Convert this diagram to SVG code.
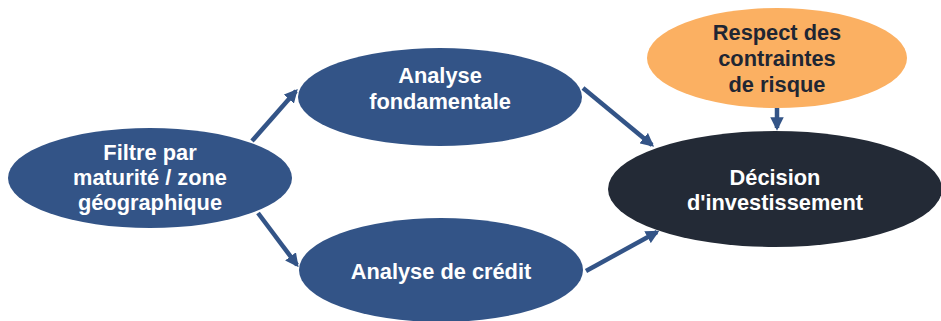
<svg xmlns="http://www.w3.org/2000/svg" width="941" height="321" viewBox="0 0 941 321">
<defs>
<style>
.blue{fill:#335487}
.dark{fill:#232a36}
.orange{fill:#fbb062}
text{font-family:"Liberation Sans",Arial,sans-serif;font-weight:bold;font-size:21.8px;text-anchor:middle}
.w{fill:#ffffff}
.k{fill:#1f2633}
.conn line{stroke:#335487;stroke-width:4.5;marker-end:url(#ah)}
</style>
<marker id="ah" viewBox="0 0 10 10" refX="8" refY="5" markerWidth="3" markerHeight="3" orient="auto" markerUnits="strokeWidth">
<path d="M0,0 L10,5 L0,10 z" fill="#335487"/>
</marker>
</defs>
<rect width="941" height="321" fill="#ffffff"/>
<g id="connectors" class="conn">
<line x1="252" y1="141" x2="296" y2="91"/>
<line x1="258" y1="213" x2="297" y2="265"/>
<line x1="583" y1="88" x2="652" y2="145"/>
<line x1="586" y1="271" x2="657" y2="232"/>
<line x1="777" y1="108" x2="777" y2="128"/>
</g>
<g id="filtre">
<ellipse class="blue" cx="150" cy="178" rx="142" ry="50"/>
<text class="w" x="150" y="160">Filtre par</text>
<text class="w" x="150" y="185">maturité / zone</text>
<text class="w" x="150" y="210">géographique</text>
</g>
<g id="fondamentale">
<ellipse class="blue" cx="440" cy="97" rx="142" ry="49"/>
<text class="w" x="440" y="83">Analyse</text>
<text class="w" x="440" y="109">fondamentale</text>
</g>
<g id="credit">
<ellipse class="blue" cx="441" cy="270" rx="142" ry="52"/>
<text class="w" x="441" y="279">Analyse de crédit</text>
</g>
<g id="risque">
<ellipse class="orange" cx="777" cy="58" rx="130" ry="50"/>
<text class="k" x="777" y="40">Respect des</text>
<text class="k" x="777" y="66">contraintes</text>
<text class="k" x="777" y="92">de risque</text>
</g>
<g id="decision">
<ellipse class="dark" cx="775" cy="189" rx="167" ry="58"/>
<text class="w" x="775" y="185">Décision</text>
<text class="w" x="775" y="210">d'investissement</text>
</g>
</svg>
